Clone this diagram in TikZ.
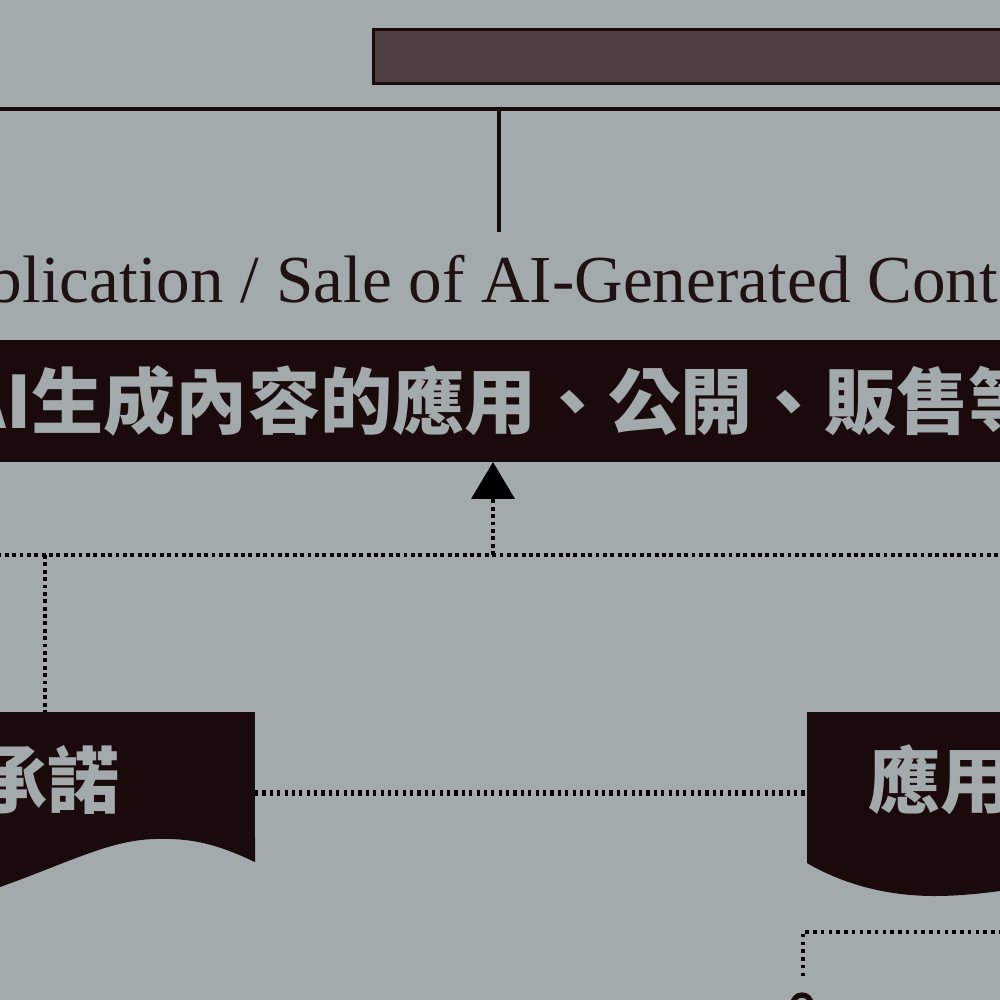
\documentclass[tikz,border=0pt]{standalone}
\usepackage{fontspec}
\setmainfont{Liberation Serif}
\newfontfamily\cjkfont{Noto Sans CJK TC}
\usepackage{tikz}
\usetikzlibrary{calc, arrows.meta, positioning}
\definecolor{paper}{RGB}{163,170,172}
\definecolor{ink}{RGB}{27,10,12}
\definecolor{barfill}{RGB}{78,64,66}
\definecolor{engink}{RGB}{32,18,18}

\begin{document}
\begin{tikzpicture}[
        x=0.01cm, y=-0.01cm,
        inkbox/.style = {fill=ink, inner sep=0pt, outer sep=0pt},
        cjklabel/.style = {font=\cjkfont\bfseries\fontsize{20.5}{24}\selectfont, text=paper, inner sep=0pt},
        entext/.style = {font=\fontsize{19.1}{23}\selectfont, text=engink, inner sep=0pt},
        barbox/.style = {draw=ink, fill=barfill, line width=0.9pt, inner sep=0pt},
        rule/.style = {draw=ink, line width=0.9pt},
        dotline/.style = {draw=black, line width=1.2pt, dash pattern=on 1.1pt off 1pt},
        dotthick/.style = {draw=black, line width=1.9pt, dash pattern=on 0.9pt off 1.2pt},
        dotthin/.style = {draw=black, line width=1pt, dash pattern=on 1pt off 1.2pt},
        tip/.style = {-{Triangle[width=12.2pt, length=10.5pt]}}
    ]

        % Frame and background
        \useasboundingbox (0,0) rectangle (1000,1000);
        \clip (0,0) rectangle (1000,1000);
        \fill[paper] (0,0) rectangle (1000,1000);

        % Row 1: header bar and bracket
        \node (topbar) [barbox, minimum width=80mm, minimum height=5.4mm, anchor=north west] at (372,28) {};
        \coordinate (ruleL) at (-10,109);
        \coordinate (ruleR) at (1010,109);
        \coordinate (stem) at (499,109);

        % Row 2: English and Chinese titles
        \node (entitle) [entext, anchor=base] at (499,302) {Publication / Sale of AI-Generated Content};
        \node (banner) [inkbox, cjklabel, minimum width=104mm, minimum height=12.2mm] at (500,401) {AI生成內容的應用、公開、販售等};

        % Row 3: two boxes with wavy bottoms
        \node (pledge) [inkbox, minimum width=40.5mm, minimum height=12.6mm, anchor=north east] at (255,712) {};
        \fill[ink] (pledge.south east) -- ++(0,24) .. controls (215,843) and (190,838) .. (155,839)
            .. controls (110,840) and (70,862) .. (0,887) .. controls (-40,901) and (-100,905) .. (-150,900)
            -- (pledge.south west) -- cycle;
        \node (pledgetxt) [cjklabel, anchor=east] at (120,780) {承諾};

        \node (usage) [inkbox, minimum width=35mm, minimum height=15.1mm, anchor=north west] at (807,712) {};
        \fill[ink] (usage.south west) .. controls (850,888) and (895,896) .. (935,896)
            .. controls (990,896) and (1060,882) .. (1157,860) -- (usage.south east) -- cycle;
        \node (usagetxt) [cjklabel, anchor=west] at (868,780) {應用};

        % Row 4: next element (cut by the frame)
        \node (nextnode) [circle, draw=ink, line width=1.5pt, minimum size=1.8mm, inner sep=0pt] at (802,1004) {};

        % Solid bracket
        \draw [rule] (ruleL) -- (ruleR);
        \draw [rule] (stem) -- ($(stem |- entitle.north)+(0,-22)$);

        % Dotted links up to the banner
        \coordinate (hub) at (493,555);
        \coordinate (dotL) at (-10,555);
        \coordinate (dotR) at (1010,555);
        \coordinate (drop) at (45,555);
        \draw [dotline] (dotL) -- (dotR);
        \draw [dotline, tip] (hub) -- (hub |- banner.south);
        \draw [dotline] (drop) -- (drop |- pledge.north);

        % Dotted link between the boxes
        \coordinate (midrow) at (500,793);
        \draw [dotthick] (pledge.east |- midrow) -- (usage.west |- midrow);

        % Dotted elbow below the right box
        \coordinate (elbow) at (803,932);
        \coordinate (elbowR) at (1010,932);
        \coordinate (elbowD) at (803,977);
        \draw [dotthin] (elbowR) -- (elbow) -- (elbowD);

    \end{tikzpicture}
\end{document}
